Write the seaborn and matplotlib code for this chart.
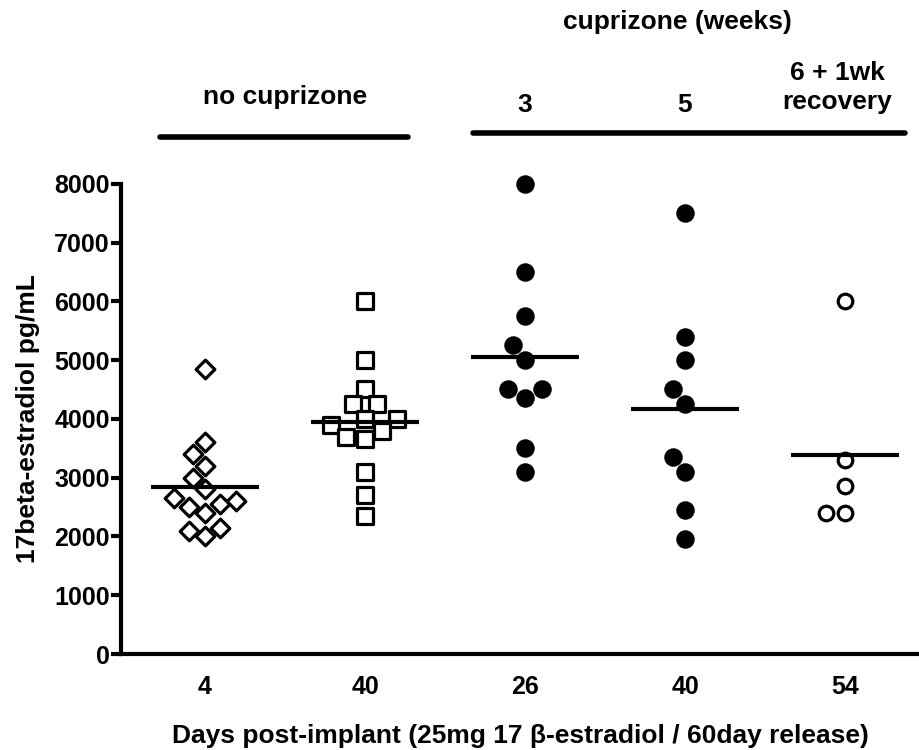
import numpy as np
import pandas as pd
import matplotlib
matplotlib.use("Agg")
import matplotlib.pyplot as plt
import seaborn as sns

# values (pg/mL)
day4_no_cpz = [4850, 3600, 3400, 3200, 3000, 2800, 2650, 2600, 2550, 2500, 2400, 2150, 2100, 2000]
day40_no_cpz = [6000, 5000, 4500, 4250, 4250, 4000, 4000, 3900, 3800, 3700, 3650, 3100, 2700, 2350]
day26_cpz3 = [8000, 6500, 5750, 5250, 5000, 4500, 4500, 4350, 3500, 3100]
day40_cpz5 = [7500, 5400, 5000, 4500, 4250, 3350, 3100, 2450, 1950]
day54_cpz6 = [6000, 3300, 2850, 2400, 2400]

groups = ["g1", "g2", "g3", "g4", "g5"]
tick_labels = ["4", "40", "26", "40", "54"]
series = [day4_no_cpz, day40_no_cpz, day26_cpz3, day40_cpz5, day54_cpz6]
markers = ["D", "s", "o", "o", "o"]
fills = ["white", "white", "black", "black", "white"]
sizes = [9.5, 11, 11, 11, 10.5]

df = pd.DataFrame({
    "group": np.repeat(groups, [len(s) for s in series]),
    "value": np.concatenate(series),
})

sns.set_style("ticks")
plt.rcParams["font.family"] = ["Liberation Sans", "DejaVu Sans"]
plt.rcParams["font.weight"] = "bold"
plt.rcParams["text.color"] = "black"
plt.rcParams["axes.labelcolor"] = "black"
plt.rcParams["axes.edgecolor"] = "black"
plt.rcParams["xtick.color"] = "black"
plt.rcParams["ytick.color"] = "black"

fig = plt.figure(figsize=(9.19, 7.5), dpi=100)
ax = fig.add_axes([0.1317, 0.128, 0.8683, 0.627])

for g, m, fc, sz in zip(groups, markers, fills, sizes):
    sns.swarmplot(data=df[df["group"] == g], x="group", y="value", order=groups,
                  marker=m, color=fc, edgecolor="black", linewidth=2.3, size=sz, ax=ax)
for coll in ax.collections:
    coll.set_clip_on(False)

# mean bars
for i, vals in enumerate(series):
    ax.hlines(np.mean(vals), i - 0.34, i + 0.34, color="black", linewidth=3, zorder=5)

ax.set_xlim(-0.525, 4.4625)
ax.set_ylim(0, 8000)
ax.set_yticks(range(0, 8001, 1000))
ax.set_xticks(range(5))
ax.set_xticklabels(tick_labels)
sns.despine(ax=ax)
for side in ["left", "bottom"]:
    ax.spines[side].set_linewidth(3)
ax.tick_params(axis="y", length=7, width=3, labelsize=18, pad=1)
ax.tick_params(axis="x", length=0, labelsize=18, pad=15)
for lab in ax.get_xticklabels() + ax.get_yticklabels():
    lab.set_fontweight("bold")

ax.set_ylabel("17beta-estradiol pg/mL", fontsize=19, fontweight="bold", labelpad=10)
ax.set_xlabel("Days post-implant (25mg 17 β-estradiol / 60day release)",
              fontsize=19, fontweight="bold", labelpad=18)

# group annotations above the plot
tr = ax.get_xaxis_transform()
ax.plot([-0.28, 1.27], [1.10, 1.10], transform=tr, color="black", lw=4,
        solid_capstyle="round", clip_on=False)
ax.plot([1.675, 4.375], [1.108, 1.108], transform=tr, color="black", lw=4,
        solid_capstyle="round", clip_on=False)
txt = dict(transform=tr, ha="center", va="center", fontsize=19, fontweight="bold")
ax.text(0.5, 1.185, "no cuprizone", **txt)
ax.text(2.95, 1.345, "cuprizone (weeks)", **txt)
ax.text(2, 1.168, "3", **txt)
ax.text(3, 1.168, "5", **txt)
ax.text(3.95, 1.205, "6 + 1wk\nrecovery", linespacing=1.25, **txt)

fig.savefig("out.png", dpi=100)
